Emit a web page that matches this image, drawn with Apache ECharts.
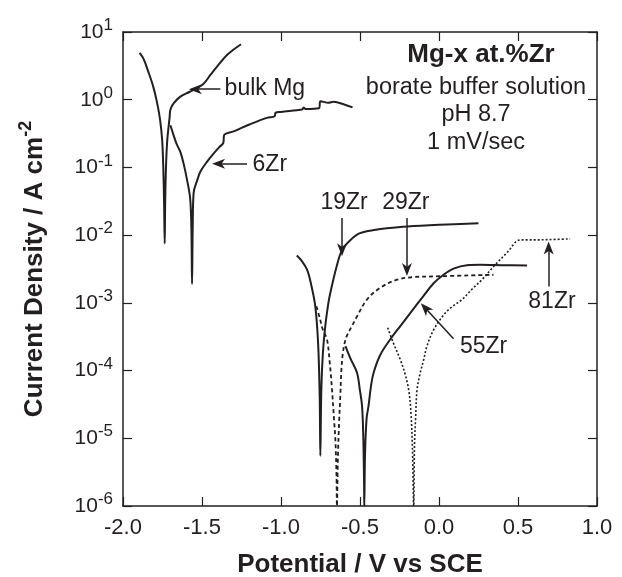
<!DOCTYPE html>
<html>
<head>
<meta charset="utf-8">
<script src="https://cdn.jsdelivr.net/npm/echarts@6/dist/echarts.min.js"></script>
<style>
html, body { margin: 0; padding: 0; background: #fff; }
#chart { width: 622px; height: 577px; }
</style>
</head>
<body>
<div id="chart"></div>
<script>
// potential (V vs SCE), current density (A cm-2)
const bulkMg = [[-1.895, 4.9], [-1.87, 4.0], [-1.84, 2.6], [-1.81, 1.6], [-1.785, 0.92], [-1.765, 0.5],
  [-1.752, 0.25], [-1.745, 0.1], [-1.740, 0.03], [-1.736, 0.0075], [-1.733, 0.03], [-1.728, 0.1],
  [-1.72, 0.25], [-1.705, 0.55], [-1.70, 0.71], [-1.68, 0.88], [-1.637, 1.11], [-1.58, 1.3],
  [-1.532, 1.48], [-1.49, 1.72], [-1.447, 2.32], [-1.405, 3.08], [-1.342, 4.57], [-1.30, 5.5],
  [-1.253, 6.6]];
const zr6 = [[-1.70, 0.42], [-1.68, 0.30], [-1.66, 0.22], [-1.637, 0.17], [-1.615, 0.11], [-1.595, 0.066],
  [-1.575, 0.035], [-1.567, 0.012], [-1.563, 0.0019], [-1.559, 0.012], [-1.553, 0.042], [-1.53, 0.065],
  [-1.51, 0.087], [-1.47, 0.12], [-1.427, 0.16], [-1.39, 0.20], [-1.365, 0.23], [-1.36, 0.30], [-1.30, 0.34],
  [-1.2, 0.43], [-1.09, 0.54], [-1.04, 0.57], [-1.035, 0.64], [-1.0, 0.66], [-0.90, 0.70], [-0.865, 0.72],
  [-0.857, 0.77], [-0.845, 0.73], [-0.76, 0.75], [-0.75, 0.95], [-0.70, 0.90], [-0.667, 0.93],
  [-0.60, 0.85], [-0.547, 0.77]];
const zr19 = [[-0.90, 0.0050], [-0.87, 0.0042], [-0.835, 0.0031], [-0.81, 0.0019], [-0.783, 0.00089],
  [-0.765, 0.00025], [-0.755, 0.00004], [-0.751, 0.0000055], [-0.745, 0.00005], [-0.735, 0.00018],
  [-0.72, 0.00045], [-0.70, 0.0010], [-0.688, 0.0014], [-0.65, 0.0033], [-0.614, 0.0060], [-0.56, 0.0085],
  [-0.50, 0.0107], [-0.40, 0.0120], [-0.33, 0.0126], [-0.20, 0.0134], [0.0, 0.0142], [0.25, 0.015]];
const zr29 = [[-0.776, 0.00089], [-0.755, 0.0006], [-0.735, 0.0004], [-0.709, 0.00029], [-0.69, 0.00012],
  [-0.677, 0.000052], [-0.665, 0.00002], [-0.656, 0.0000096], [-0.649, 0.000003], [-0.646, 0.000001],
  [-0.640, 0.000005], [-0.632, 0.000018], [-0.625, 0.00004], [-0.618, 0.0001], [-0.61, 0.00017],
  [-0.598, 0.00025], [-0.582, 0.00033], [-0.55, 0.00046], [-0.519, 0.00063], [-0.456, 0.00112],
  [-0.372, 0.00167], [-0.266, 0.0022], [-0.161, 0.0024], [-0.055, 0.00245], [0.345, 0.0026]];
const zr55 = [[-0.592, 0.00023], [-0.56, 0.00015], [-0.519, 0.000093], [-0.50, 0.00005], [-0.487, 0.00003],
  [-0.479, 0.00001], [-0.474, 0.000002], [-0.473, 0.000001], [-0.468, 0.000006], [-0.458, 0.00002],
  [-0.446, 0.00003], [-0.43, 0.00006], [-0.414, 0.000093], [-0.372, 0.00017], [-0.308, 0.00029],
  [-0.24, 0.00047], [-0.17, 0.00077], [-0.10, 0.00125], [-0.034, 0.00195], [0.029, 0.0026],
  [0.092, 0.0032], [0.177, 0.0036], [0.261, 0.00365], [0.40, 0.0036], [0.557, 0.00355]];
const zr81 = [[-0.325, 0.00043], [-0.29, 0.00026], [-0.245, 0.000145], [-0.215, 0.00009], [-0.192, 0.000052],
  [-0.178, 0.000025], [-0.168, 0.000007], [-0.16, 0.000001], [-0.155, 0.000008], [-0.148, 0.00002],
  [-0.139, 0.000052], [-0.12, 0.00009], [-0.097, 0.000145], [-0.076, 0.00023], [-0.034, 0.0004],
  [0.04, 0.00071], [0.09, 0.0009], [0.146, 0.00112], [0.21, 0.0016], [0.272, 0.0022], [0.346, 0.00345],
  [0.43, 0.0055], [0.515, 0.0085], [0.6, 0.0085], [0.7, 0.0086], [0.83, 0.0088]];

// curve labels: text, [V, i], anchor
const labels = [
  ['bulk Mg', [-1.357, 1.44], 'left'],
  ['6Zr', [-1.180, 0.109], 'left'],
  ['19Zr', [-0.601, 0.0297], 'center'],
  ['29Zr', [-0.210, 0.0297], 'center'],
  ['81Zr', [0.715, 0.00105], 'center'],
  ['55Zr', [0.282, 0.000228], 'center']
];
// arrows: from -> to
const arrows = [
  [[-1.384, 1.43], [-1.542, 1.43]],
  [[-1.215, 0.113], [-1.395, 0.113]],
  [[-0.614, 0.0179], [-0.614, 0.0061]],
  [[-0.203, 0.0179], [-0.203, 0.0031]],
  [[0.694, 0.00175], [0.694, 0.00645]],
  [[0.092, 0.000295], [-0.087, 0.00084]]
];
const infoTitle = 'Mg-x at.%Zr';
const infoLines = ['borate buffer solution', 'pH 8.7', '1 mV/sec'];

const ink = '#231f20';
const font = '"Liberation Sans", Arial, Helvetica, sans-serif';

function curve(name, data, dash, width) {
  return {
    name: name, type: 'line', data: data, showSymbol: false, symbol: 'none',
    smooth: 0.35, silent: true,
    lineStyle: { color: ink, width: width, type: dash }
  };
}

const xCommon = {
  type: 'value', min: -2, max: 1, interval: 0.5,
  axisLine: { show: true, onZero: false, lineStyle: { color: ink, width: 1.5 } },
  axisTick: { show: true, inside: true, length: 9, lineStyle: { color: ink, width: 1.2 } },
  splitLine: { show: false }
};
const yCommon = {
  type: 'log', logBase: 10, min: 1e-6, max: 10, splitNumber: 7,
  axisLine: { show: true, onZero: false, lineStyle: { color: ink, width: 1.5 } },
  axisTick: { show: true, inside: true, length: 9, lineStyle: { color: ink, width: 1.2 } },
  splitLine: { show: false }
};

const chart = echarts.init(document.getElementById('chart'));
chart.setOption({
  animation: false,
  backgroundColor: '#fff',
  textStyle: { fontFamily: font, color: ink },
  grid: { left: 123, right: 25, top: 32, bottom: 71, outerBoundsMode: 'none' },
  xAxis: [
    Object.assign({}, xCommon, {
      position: 'bottom',
      name: 'Potential / V vs SCE', nameLocation: 'middle', nameGap: 46,
      nameTextStyle: { fontFamily: font, fontSize: 26, fontWeight: 'bold', color: ink },
      axisLabel: { fontFamily: font, fontSize: 22, color: ink, margin: 11,
        formatter: function (v) { return v.toFixed(1); } }
    }),
    Object.assign({}, xCommon, { position: 'top', axisLabel: { show: false } })
  ],
  yAxis: [
    Object.assign({}, yCommon, {
      position: 'left',
      name: '{m|Current Density / A cm}{s|-2}', nameLocation: 'middle', nameGap: 70, nameRotate: 90,
      nameTextStyle: {
        fontFamily: font, fontSize: 26, fontWeight: 'bold', color: ink,
        rich: {
          m: { fontFamily: font, fontSize: 26, fontWeight: 'bold', color: ink, lineHeight: 36, verticalAlign: 'middle' },
          s: { fontFamily: font, fontSize: 18, fontWeight: 'bold', color: ink, lineHeight: 14, verticalAlign: 'top' }
        }
      },
      axisLabel: {
        margin: 10, color: ink,
        formatter: function (v) {
          const e = Math.round(Math.log(v) / Math.LN10);
          return '{b|10}{s|' + e + '}';
        },
        rich: {
          b: { fontFamily: font, fontSize: 21, color: ink, verticalAlign: 'middle', lineHeight: 30 },
          s: { fontFamily: font, fontSize: 17, color: ink, verticalAlign: 'top', lineHeight: 12 }
        }
      }
    }),
    Object.assign({}, yCommon, { position: 'right', axisLabel: { show: false } })
  ],
  series: [
    curve('bulk Mg', bulkMg, 'solid', 2),
    curve('6Zr', zr6, 'solid', 2),
    curve('19Zr', zr19, 'solid', 2),
    curve('29Zr', zr29, [4, 3], 1.8),
    curve('55Zr', zr55, 'solid', 2),
    curve('81Zr', zr81, [2, 2], 1.6),
    {
      type: 'line', data: [], silent: true,
      markLine: {
        silent: true, animation: false,
        symbol: ['none', 'path://M5,0 L10,11 L5,8 L0,11 Z'], symbolSize: [10, 13],
        label: { show: false },
        lineStyle: { color: ink, width: 1.5, type: 'solid' },
        data: arrows.map(function (a) { return [{ coord: a[0] }, { coord: a[1] }]; })
      }
    }
  ]
});

const g = labels.map(function (l) {
  const p = chart.convertToPixel({ gridIndex: 0 }, l[1]);
  return { type: 'text', x: p[0], y: p[1], silent: true,
    style: { text: l[0], fontFamily: font, fontSize: 23, fill: ink, align: l[2], verticalAlign: 'middle' } };
});
g.push({ type: 'text', x: 481, y: 55, silent: true,
  style: { text: infoTitle, fontFamily: font, fontSize: 26, fontWeight: 'bold', fill: ink, align: 'center', verticalAlign: 'middle' } });
const infoY = [88, 115, 143];
infoLines.forEach(function (t, i) {
  g.push({ type: 'text', x: 476, y: infoY[i], silent: true,
    style: { text: t, fontFamily: font, fontSize: 23.5, fill: ink, align: 'center', verticalAlign: 'middle' } });
});
chart.setOption({ graphic: g });
</script>
</body>
</html>
